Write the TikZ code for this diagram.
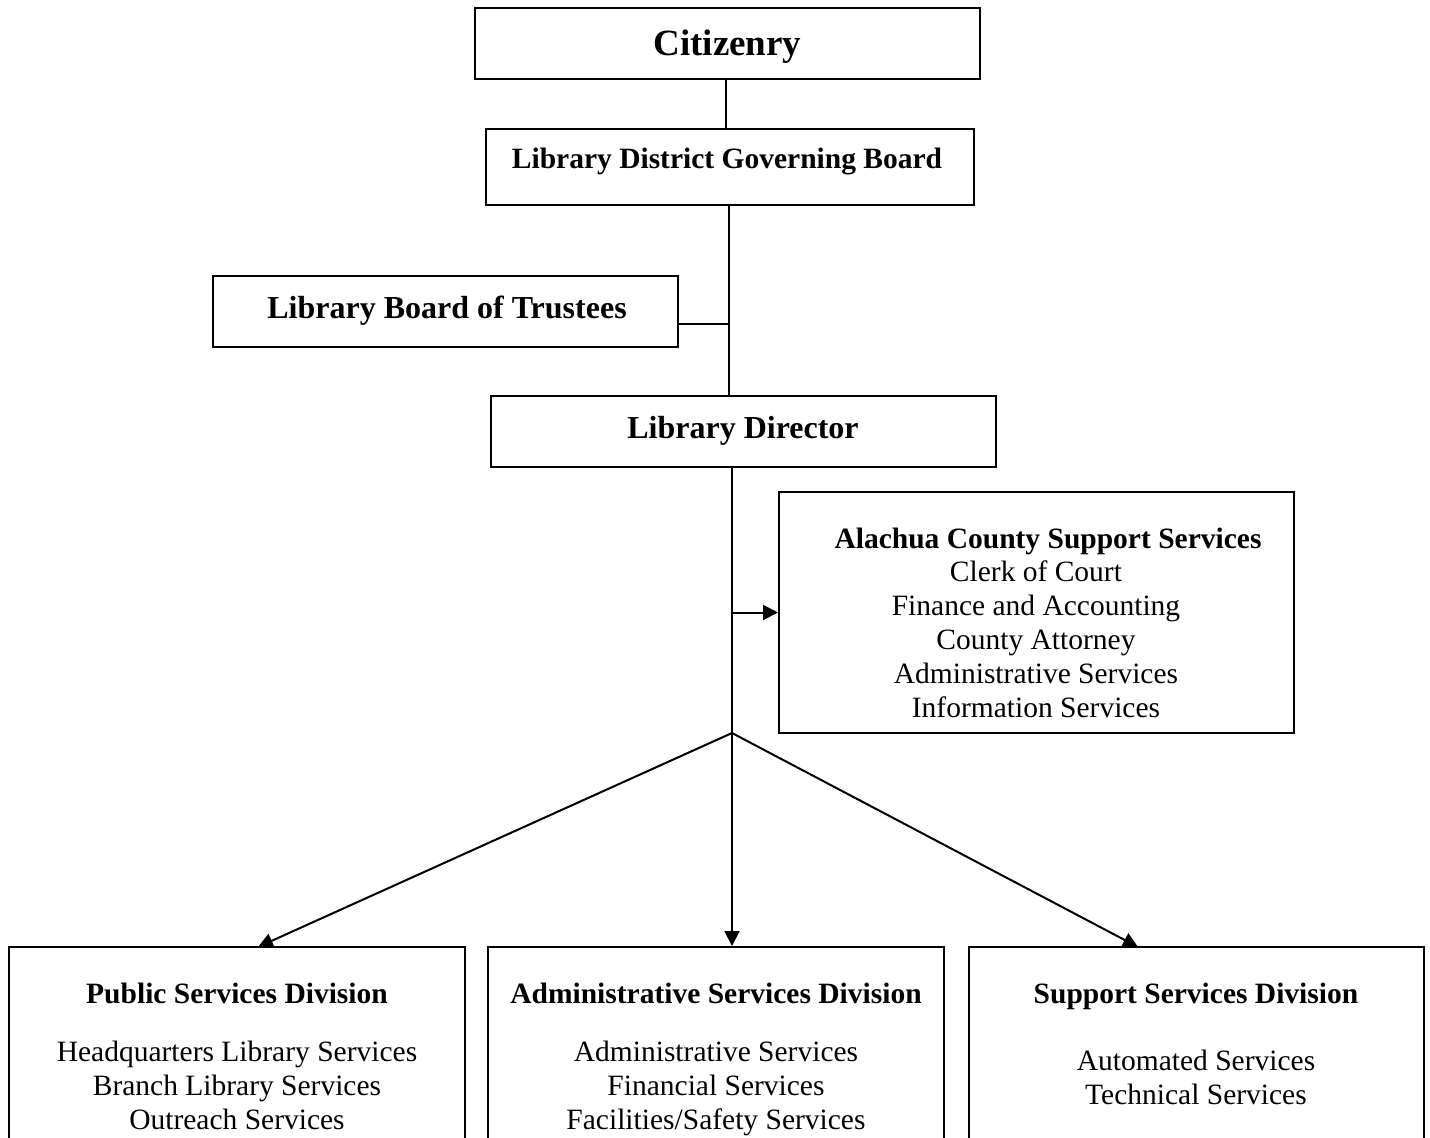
\documentclass[tikz,border=0pt]{standalone}
\usepackage{fontspec}
\setmainfont{Liberation Serif}
\usetikzlibrary{arrows.meta,calc}
\begin{document}
\begin{tikzpicture}[x=1pt,y=-1pt,
  box/.style={draw,line width=2pt,inner sep=0pt,rectangle},
  conn/.style={line width=2pt},
  arr/.style={line width=2pt,-{Triangle[length=15pt,width=15pt]}},
  lbl/.style={inner sep=0pt,align=center,font=\fontsize{29.5}{34}\selectfont},
  blbl/.style={lbl,font=\fontsize{29.5}{34}\selectfont\bfseries}]
\useasboundingbox (0,0) rectangle (1430,1138);
\clip (0,0) rectangle (1430,1138);
% boxes
\node[box,minimum width=505pt,minimum height=71pt] (cit) at (727.5,43.5) {};
\node[box,minimum width=488pt,minimum height=76pt] (ldgb) at (730,167) {};
\node[box,minimum width=465pt,minimum height=71pt] (lbt) at (445.5,311.5) {};
\node[box,minimum width=505pt,minimum height=71pt] (ld) at (743.5,431.5) {};
\node[box,minimum width=515pt,minimum height=241pt] (acss) at (1036.5,612.5) {};
\node[box,minimum width=456pt,minimum height=240pt] (psd) at (237,1067) {};
\node[box,minimum width=456pt,minimum height=240pt] (asd) at (716,1067) {};
\node[box,minimum width=455pt,minimum height=240pt] (ssd) at (1196.5,1067) {};
% labels
\node[lbl,font=\fontsize{37}{42}\selectfont\bfseries] (tcit) at (727.5,47) {Citizenry};
\node[blbl] (tldgb) at (727,162) {Library District Governing Board};
\node[lbl,font=\fontsize{32}{36}\selectfont\bfseries] (tlbt) at (447,311) {Library Board of Trustees};
\node[lbl,font=\fontsize{32}{36}\selectfont\bfseries] (tld) at (743,431) {Library Director};
\node[blbl] (tacssh) at (1048,541) {Alachua County Support Services};
\node[lbl,anchor=north] (tacss) at (1036,561) {Clerk of Court\\Finance and Accounting\\County Attorney\\Administrative Services\\Information Services};
\node[blbl] (tpsdh) at (237,993) {Public Services Division};
\node[lbl,anchor=north] (tpsd) at (237,1041) {Headquarters Library Services\\Branch Library Services\\Outreach Services};
\node[blbl] (tasdh) at (716,993) {Administrative Services Division};
\node[lbl,anchor=north] (tasd) at (716,1041) {Administrative Services\\Financial Services\\Facilities/Safety Services};
\node[blbl] (tssdh) at (1196,996) {Support Services Division};
\node[lbl,anchor=north] (tssd) at (1196,1050) {Automated Services\\Technical Services};
% connectors
\coordinate (apex) at (732,733);
\coordinate (psdin) at (258,947);
\coordinate (ssdin) at (1138,947);
\coordinate (citout) at ($(cit.south)+(-2,0)$);
\coordinate (trunk) at ($(ldgb.south)+(-1,0)$);
\coordinate (lbtout) at ($(lbt.east)+(0,12.5)$);
\draw[conn] (citout) -- (citout |- ldgb.north);
\draw[conn] (trunk) -- (trunk |- ld.north);
\draw[conn] (lbtout) -- (lbtout -| trunk);
\draw[conn] (apex |- ld.south) -- (apex);
\draw[arr] (apex |- acss.west) -- (acss.west);
\draw[arr] (apex) -- (psdin);
\draw[arr] (apex) -- (apex |- asd.north);
\draw[arr] (apex) -- (ssdin);
\end{tikzpicture}
\end{document}
